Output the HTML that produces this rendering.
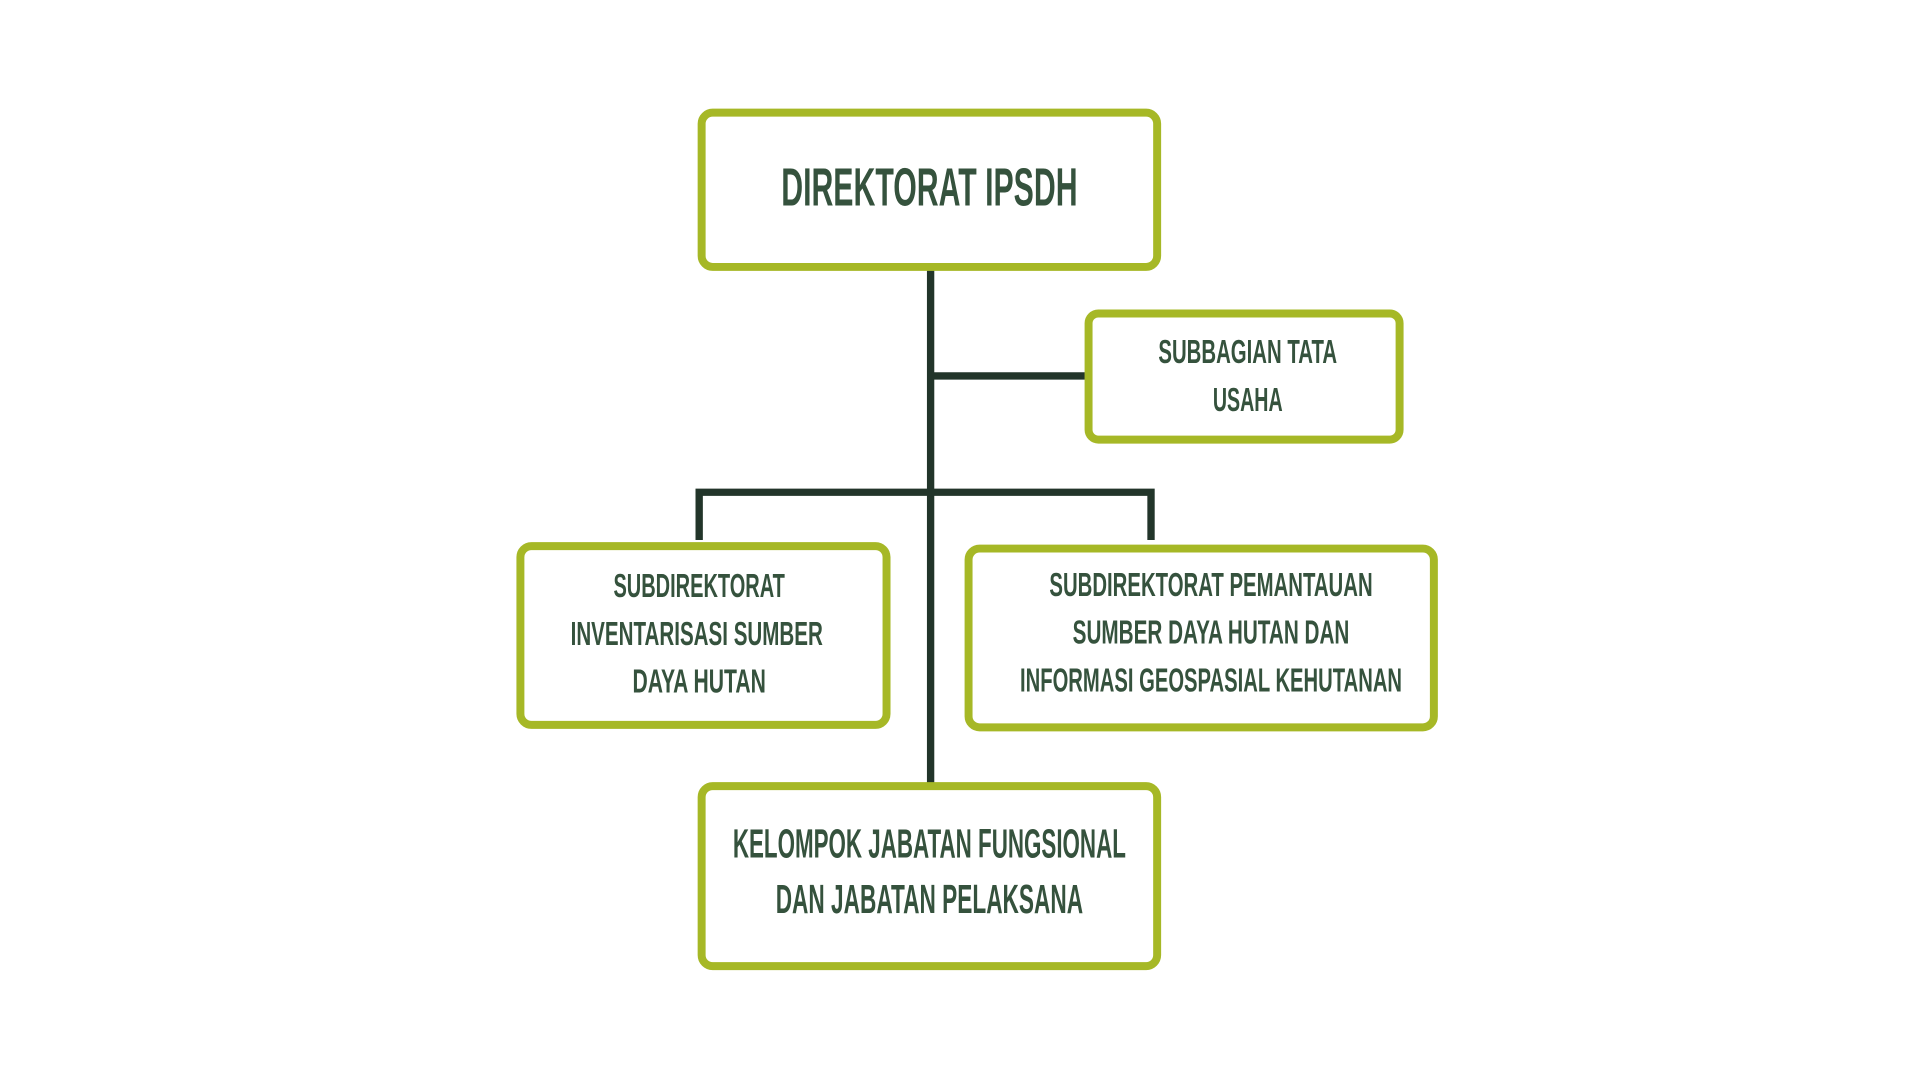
<!DOCTYPE html>
<html><head><meta charset="utf-8"><style>
html,body{margin:0;padding:0;background:#fff;width:1920px;height:1080px;overflow:hidden}
svg{display:block}
text{font-family:"Liberation Sans",sans-serif;font-weight:bold;fill:#35523d;text-anchor:middle;dominant-baseline:central}
</style></head><body>
<svg width="1920" height="1080" viewBox="0 0 1568 882" preserveAspectRatio="none">
<g stroke="#22352a" stroke-width="6" fill="none">
<line x1="760" y1="221" x2="760" y2="639"/>
<line x1="760" y1="307" x2="886" y2="307"/>
<polyline points="571,441 571,402 940,402 940,441"/>
</g>
<g stroke="#a6b826" stroke-width="6.5" fill="#fff">
<rect x="573" y="92" width="372" height="126" rx="9"/>
<rect x="889" y="256" width="254" height="103" rx="8"/>
<rect x="425" y="446" width="299" height="146" rx="9"/>
<rect x="791" y="448" width="380" height="146" rx="9"/>
<rect x="573" y="642" width="372" height="147" rx="9"/>
</g>
<text x="759" y="153" font-size="44" textLength="242" lengthAdjust="spacingAndGlyphs">DIREKTORAT IPSDH</text>
<text x="1019" y="288" font-size="27" textLength="146" lengthAdjust="spacingAndGlyphs">SUBBAGIAN TATA</text>
<text x="1019" y="327" font-size="27" textLength="57" lengthAdjust="spacingAndGlyphs">USAHA</text>
<text x="571" y="479" font-size="27" textLength="140" lengthAdjust="spacingAndGlyphs">SUBDIREKTORAT</text>
<text x="569" y="518" font-size="27" textLength="206" lengthAdjust="spacingAndGlyphs">INVENTARISASI SUMBER</text>
<text x="571" y="557" font-size="27" textLength="109" lengthAdjust="spacingAndGlyphs">DAYA HUTAN</text>
<text x="989" y="478" font-size="27" textLength="264" lengthAdjust="spacingAndGlyphs">SUBDIREKTORAT PEMANTAUAN</text>
<text x="989" y="517" font-size="27" textLength="226" lengthAdjust="spacingAndGlyphs">SUMBER DAYA HUTAN DAN</text>
<text x="989" y="556" font-size="27" textLength="312" lengthAdjust="spacingAndGlyphs">INFORMASI GEOSPASIAL KEHUTANAN</text>
<text x="759" y="689" font-size="33" textLength="321" lengthAdjust="spacingAndGlyphs">KELOMPOK JABATAN FUNGSIONAL</text>
<text x="759" y="734" font-size="33" textLength="251" lengthAdjust="spacingAndGlyphs">DAN JABATAN PELAKSANA</text>
</svg>
</body></html>
